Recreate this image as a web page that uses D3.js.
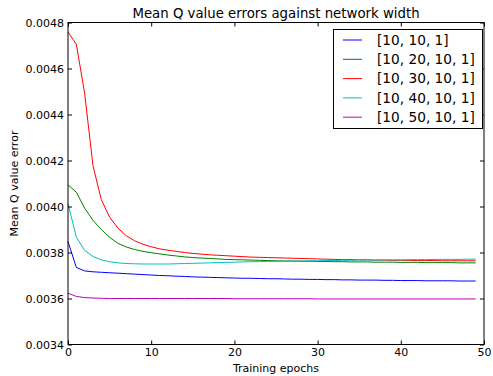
<!DOCTYPE html>
<html>
<head>
<meta charset="utf-8">
<script src="https://cdn.jsdelivr.net/npm/d3@7"></script>
<style>
  body { margin: 0; background: #fff; }
  svg { display: block; font-family: "DejaVu Sans", sans-serif; }
</style>
</head>
<body>
<svg id="chart" width="493" height="376"></svg>
<script>
// series values (epochs 0..49)
var epochs = d3.range(50);
var seriesNames = ["[10, 10, 1]", "[10, 20, 10, 1]", "[10, 30, 10, 1]", "[10, 40, 10, 1]", "[10, 50, 10, 1]"];
var seriesColors = ["#0000ff", "#008000", "#ff0000", "#00bfbf", "#bf00bf"];

var w10_10_1 = [0.003848, 0.003735, 0.003720, 0.003716, 0.003714, 0.003712, 0.003710, 0.003708, 0.003706, 0.003704,
  0.003702, 0.003700, 0.003699, 0.003697, 0.003696, 0.003694, 0.003693, 0.003692, 0.003691, 0.003690,
  0.003689, 0.003688, 0.003688, 0.003687, 0.003686, 0.003686, 0.003685, 0.003684, 0.003684, 0.003683,
  0.003683, 0.003682, 0.003682, 0.003681, 0.003681, 0.003680, 0.003680, 0.003680, 0.003679, 0.003679,
  0.003678, 0.003678, 0.003678, 0.003677, 0.003677, 0.003677, 0.003677, 0.003676, 0.003676, 0.003676];
var w10_20_10_1 = [0.004094, 0.004062, 0.003993, 0.003940, 0.003900, 0.003866, 0.003840, 0.003824, 0.003813, 0.003805,
  0.003799, 0.003794, 0.003789, 0.003785, 0.003781, 0.003778, 0.003776, 0.003774, 0.003772, 0.003770,
  0.003769, 0.003768, 0.003767, 0.003766, 0.003765, 0.003764, 0.003763, 0.003763, 0.003762, 0.003762,
  0.003761, 0.003761, 0.003760, 0.003760, 0.003759, 0.003759, 0.003759, 0.003758, 0.003758, 0.003758,
  0.003757, 0.003757, 0.003757, 0.003756, 0.003756, 0.003756, 0.003756, 0.003755, 0.003755, 0.003755];
var w10_30_10_1 = [0.004758, 0.004706, 0.004493, 0.004178, 0.004030, 0.003954, 0.003906, 0.003873, 0.003851, 0.003836,
  0.003825, 0.003816, 0.003810, 0.003805, 0.003800, 0.003796, 0.003793, 0.003790, 0.003788, 0.003786,
  0.003784, 0.003782, 0.003780, 0.003779, 0.003778, 0.003777, 0.003776, 0.003775, 0.003774, 0.003773,
  0.003772, 0.003771, 0.003770, 0.003769, 0.003769, 0.003768, 0.003768, 0.003767, 0.003767, 0.003766,
  0.003766, 0.003766, 0.003765, 0.003765, 0.003765, 0.003764, 0.003764, 0.003764, 0.003764, 0.003764];
var w10_40_10_1 = [0.004012, 0.003867, 0.003809, 0.003783, 0.003768, 0.003760, 0.003755, 0.003752, 0.003751, 0.003750,
  0.003750, 0.003750, 0.003750, 0.003751, 0.003752, 0.003753, 0.003754, 0.003755, 0.003756, 0.003757,
  0.003758, 0.003759, 0.003760, 0.003760, 0.003761, 0.003762, 0.003762, 0.003763, 0.003763, 0.003764,
  0.003764, 0.003765, 0.003765, 0.003766, 0.003766, 0.003767, 0.003767, 0.003767, 0.003768, 0.003768,
  0.003768, 0.003769, 0.003769, 0.003769, 0.003770, 0.003770, 0.003770, 0.003770, 0.003771, 0.003771];
var w10_50_10_1 = [0.003623, 0.003609, 0.003604, 0.003602, 0.003601, 0.003600, 0.003600, 0.003600, 0.003600, 0.003600,
  0.003600, 0.003600, 0.003600, 0.003600, 0.003600, 0.003600, 0.003600, 0.003600, 0.003600, 0.003600,
  0.003599, 0.003599, 0.003599, 0.003599, 0.003599, 0.003599, 0.003599, 0.003599, 0.003599, 0.003599,
  0.003598, 0.003598, 0.003598, 0.003598, 0.003598, 0.003598, 0.003598, 0.003598, 0.003598, 0.003598,
  0.003598, 0.003598, 0.003598, 0.003598, 0.003598, 0.003598, 0.003598, 0.003598, 0.003598, 0.003598];

var xTicks = [0, 10, 20, 30, 40, 50];
var yTicks = [0.0034, 0.0036, 0.0038, 0.0040, 0.0042, 0.0044, 0.0046, 0.0048];

var allSeries = [w10_10_1, w10_20_10_1, w10_30_10_1, w10_40_10_1, w10_50_10_1];

// plot box (named so they don't clash with window.top)
var padL = 68, padR = 484, padT = 22.5, padB = 344.5;
var svg = d3.select("#chart");

var x = d3.scaleLinear().domain([0, 50]).range([padL, padR]);
var y = d3.scaleLinear().domain([0.0034, 0.0048]).range([padB, padT]);

// lines
var line = d3.line()
  .x(function (d, i) { return x(epochs[i]); })
  .y(function (d) { return y(d); });

svg.append("g").selectAll("path")
  .data(allSeries)
  .enter().append("path")
  .attr("d", line)
  .attr("fill", "none")
  .attr("stroke", function (d, i) { return seriesColors[i]; })
  .attr("stroke-width", 1);

// axes, ticks inward on all 4 sides (classic matplotlib look)
var fmt = d3.format(".4f");
svg.append("g")
  .attr("transform", "translate(0," + padB + ")")
  .call(d3.axisBottom(x).tickValues(xTicks).tickSizeInner(-4).tickSizeOuter(0).tickPadding(4).tickFormat(d3.format("d")));
svg.append("g")
  .attr("transform", "translate(0," + padT + ")")
  .call(d3.axisTop(x).tickValues(xTicks).tickSizeInner(-4).tickSizeOuter(0).tickFormat(""));
svg.append("g")
  .attr("transform", "translate(" + padL + ",0)")
  .call(d3.axisLeft(y).tickValues(yTicks).tickSizeInner(-4).tickSizeOuter(0).tickPadding(4).tickFormat(fmt));
svg.append("g")
  .attr("transform", "translate(" + padR + ",0)")
  .call(d3.axisRight(y).tickValues(yTicks).tickSizeInner(-4).tickSizeOuter(0).tickFormat(""));

svg.selectAll(".tick text")
  .attr("font-family", "DejaVu Sans")
  .attr("font-size", 11)
  .attr("fill", "#000");
svg.selectAll(".domain").remove();
svg.selectAll(".tick line").attr("stroke", "#000");

svg.append("rect")
  .attr("x", padL).attr("y", padT)
  .attr("width", padR - padL).attr("height", padB - padT)
  .attr("fill", "none").attr("stroke", "#000").attr("stroke-width", 1);

// titles
svg.append("text")
  .attr("x", (padL + padR) / 2).attr("y", 18)
  .attr("text-anchor", "middle").attr("font-size", 13.3)
  .text("Mean Q value errors against network width");
svg.append("text")
  .attr("x", (padL + padR) / 2).attr("y", 372)
  .attr("text-anchor", "middle").attr("font-size", 11)
  .text("Training epochs");
svg.append("text")
  .attr("transform", "translate(18," + ((padT + padB) / 2) + ") rotate(-90)")
  .attr("text-anchor", "middle").attr("font-size", 11)
  .text("Mean Q value error");

// legend
var legend = svg.append("g");
legend.append("rect")
  .attr("x", 333.5).attr("y", 29.5).attr("width", 149).attr("height", 99)
  .attr("fill", "#fff").attr("stroke", "#000").attr("stroke-width", 1);
var rows = legend.selectAll("g.row")
  .data(seriesNames)
  .enter().append("g")
  .attr("transform", function (d, i) { return "translate(0," + (40 + i * 19.3) + ")"; });
rows.append("line")
  .attr("x1", 343).attr("x2", 362)
  .attr("stroke", function (d, i) { return seriesColors[i]; })
  .attr("stroke-width", 1);
rows.append("text")
  .attr("x", 377).attr("dy", "0.35em")
  .attr("font-size", 13.7)
  .text(function (d) { return d; });
</script>
</body>
</html>
